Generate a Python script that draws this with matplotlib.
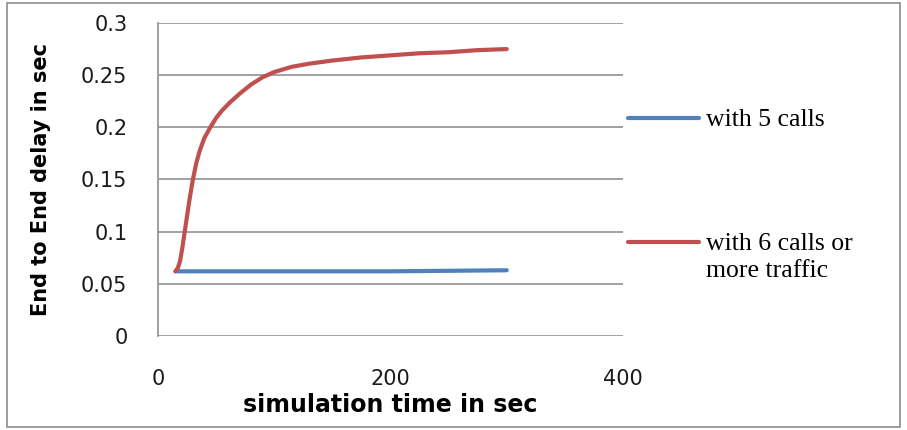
import numpy as np
import matplotlib
matplotlib.use("Agg")
import matplotlib.pyplot as plt
from matplotlib.lines import Line2D
from matplotlib.patches import Rectangle

# simulation time (s) and end to end delay (s)
t_red = [15, 17, 19, 21, 23, 25, 27, 30, 33, 36, 40, 45, 50, 55, 62, 70, 80, 90,
         100, 115, 130, 150, 175, 200, 225, 250, 275, 300]
delay_red = [0.062, 0.065, 0.072, 0.085, 0.100, 0.115, 0.130, 0.150, 0.166, 0.178,
             0.190, 0.200, 0.209, 0.216, 0.224, 0.232, 0.241, 0.248, 0.253, 0.258,
             0.261, 0.264, 0.267, 0.269, 0.271, 0.272, 0.274, 0.275]
t_blue = [15, 50, 100, 150, 200, 250, 300]
delay_blue = [0.062, 0.062, 0.062, 0.062, 0.062, 0.0625, 0.063]

yticks = [0, 0.05, 0.1, 0.15, 0.2, 0.25, 0.3]
ytick_labels = ["0", "0.05", "0.1", "0.15", "0.2", "0.25", "0.3"]
xticks = [0, 200, 400]
labels = ["with 5 calls", "with 6 calls or\nmore traffic"]

blue = "#4F81BD"
red = "#C0504D"
grid = "#9a9a9a"

fig = plt.figure(figsize=(9.07, 4.30), dpi=100)
ax = fig.add_axes([158 / 907, 94 / 430, 465 / 907, 313 / 430])

ax.plot(t_blue, delay_blue, color=blue, lw=3, solid_capstyle="round", zorder=3)
ax.plot(t_red, delay_red, color=red, lw=3, solid_capstyle="round",
        solid_joinstyle="round", zorder=4)

ax.set_xlim(0, 400)
ax.set_ylim(0, 0.3)
ax.set_yticks(yticks)
ax.set_yticklabels(ytick_labels)
ax.set_xticks(xticks)
for y in yticks:
    ax.axhline(y, color=grid, lw=1.3, zorder=1)

for s in ["top", "right", "bottom"]:
    ax.spines[s].set_visible(False)
ax.spines["left"].set_color(grid)
ax.spines["left"].set_linewidth(1.3)
ax.tick_params(length=0, labelsize=15, colors="#1a1a1a")
ax.tick_params(axis="y", pad=22)
ax.tick_params(axis="x", pad=24)

ax.set_xlabel("simulation time in sec", fontsize=17, fontweight="bold", labelpad=3)
ax.set_ylabel("End to End delay in sec", fontsize=15, fontweight="bold", labelpad=22)

# legend on the right
fig.add_artist(Line2D([628 / 907, 699 / 907], [1 - 118 / 430, 1 - 118 / 430],
                      color=blue, lw=3, solid_capstyle="round"))
fig.add_artist(Line2D([628 / 907, 699 / 907], [1 - 242 / 430, 1 - 242 / 430],
                      color=red, lw=3, solid_capstyle="round"))
fig.text(706 / 907, 1 - 120 / 430, labels[0], family="Liberation Serif",
         fontsize=18.5, va="center", ha="left")
fig.text(706 / 907, 1 - 233 / 430, labels[1], family="Liberation Serif",
         fontsize=18.5, va="top", ha="left", linespacing=1.3)

# outer frame
fig.add_artist(Rectangle((7 / 907, 3 / 430), 893 / 907, 424 / 430,
                         transform=fig.transFigure, fill=False,
                         edgecolor="#8c8c8c", lw=1.2))

fig.savefig("out.png", dpi=100)
